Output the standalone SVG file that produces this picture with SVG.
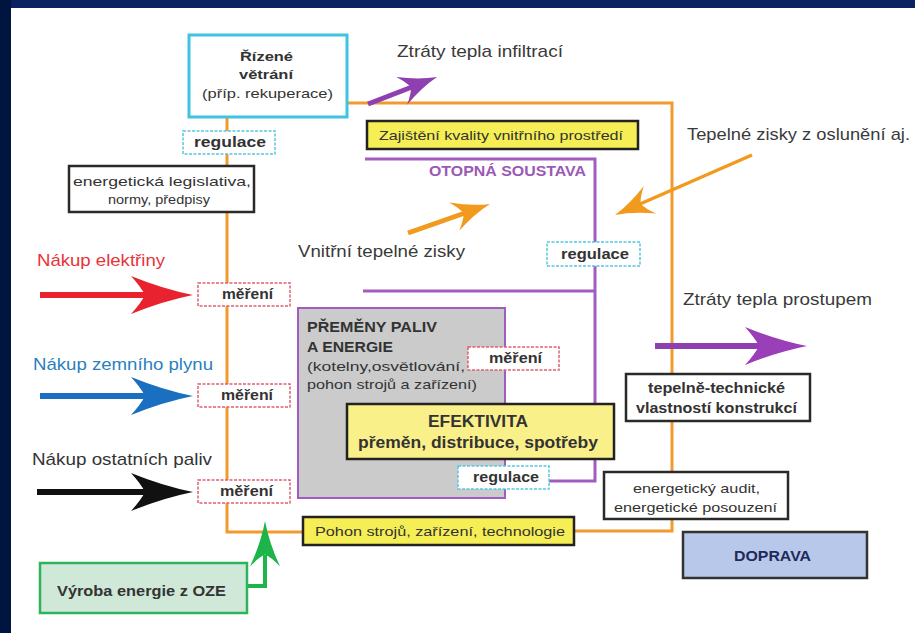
<svg xmlns="http://www.w3.org/2000/svg" xmlns:xlink="http://www.w3.org/1999/xlink" width="915" height="633" viewBox="0 0 915 633">
<defs>
<style>
text{font-family:"Liberation Sans",Arial,sans-serif;fill:#333}
.b{font-weight:bold}
.lbl{font-size:17px;fill:#3a3a3a}
.mer{fill:#fff;stroke:#e06070;stroke-width:1.5;stroke-dasharray:3 1.5}
.reg{fill:#fff;stroke:#55c6e0;stroke-width:1.5;stroke-dasharray:3 1.5}
.blk{fill:#fff;stroke:#2a2a2a;stroke-width:2.5}
.yel{fill:#f5ee55;stroke:#222;stroke-width:2.5}
.or{stroke:#f29a2e;stroke-width:3;fill:none}
.pu{stroke:#a05cc0;stroke-width:3;fill:none}
</style>
<path id="bigHead" d="M0,0 Q-30,-6 -62,-19 Q-52,-8 -48,0 Q-52,8 -62,19 Q-30,6 0,0 Z"/>
<path id="smHead" d="M0,0 Q-18,-4 -38,-15 Q-30,-6 -28,0 Q-30,6 -38,15 Q-18,4 0,0 Z"/>
</defs>
<rect x="0" y="0" width="915" height="633" fill="#fff"/>
<rect x="0" y="0" width="915" height="8" fill="#0a2260"/>
<rect x="0" y="0" width="11" height="633" fill="#001440"/>

<g id="connectors">
<polyline class="or" points="227,117 227,532 303,532"/>
<polyline class="or" points="347,103 672,103 672,531 574,531"/>
<polyline class="pu" points="365,159 595,159 595,481 548,481"/>
<line class="pu" x1="363" y1="291" x2="595" y2="291"/>
<line x1="368" y1="104" x2="412" y2="87" stroke="#8e3fb0" stroke-width="5"/>
<use xlink:href="#smHead" fill="#8e3fb0" transform="translate(437,77) rotate(-21.4)"/>
<line x1="408" y1="233" x2="465" y2="213" stroke="#f29a1e" stroke-width="5"/>
<use xlink:href="#smHead" fill="#f29a1e" transform="translate(490,204) rotate(-19.5)"/>
<line x1="752" y1="155" x2="640" y2="204" stroke="#f29a1e" stroke-width="3.5"/>
<use xlink:href="#smHead" fill="#f29a1e" transform="translate(615,215) rotate(156.4)"/>
<line x1="40" y1="295" x2="150" y2="295" stroke="#e8222e" stroke-width="6"/>
<use xlink:href="#bigHead" fill="#e8222e" transform="translate(193,295)"/>
<line x1="40" y1="396" x2="150" y2="396" stroke="#1a6fc0" stroke-width="6"/>
<use xlink:href="#bigHead" fill="#1a6fc0" transform="translate(193,396)"/>
<line x1="37" y1="492" x2="150" y2="492" stroke="#111" stroke-width="6"/>
<use xlink:href="#bigHead" fill="#111" transform="translate(193,492)"/>
<line x1="655" y1="346" x2="765" y2="346" stroke="#8e3fb0" stroke-width="6"/>
<use xlink:href="#bigHead" fill="#9a3fb8" transform="translate(807,346)"/>
<polyline points="247,586 265,586 265,555" fill="none" stroke="#1db44a" stroke-width="4"/>
<use xlink:href="#smHead" fill="#1db44a" transform="translate(265,521) rotate(-90) scale(1.2,1)"/>
</g>

<g id="rizene-vetrani">
<rect x="189" y="35" width="158" height="82" fill="#fff" stroke="#3ec3e0" stroke-width="3"/>
<text x="240" y="61" class="b" font-size="13.5" textLength="53" lengthAdjust="spacingAndGlyphs">Řízené</text>
<text x="239" y="79" class="b" font-size="13.5" textLength="54" lengthAdjust="spacingAndGlyphs">větrání</text>
<text x="202" y="98" font-size="13.5" textLength="131" lengthAdjust="spacingAndGlyphs">(příp. rekuperace)</text>
</g>
<g id="ztraty-infiltraci"><text x="397" y="57" class="lbl" textLength="166" lengthAdjust="spacingAndGlyphs">Ztráty tepla infiltrací</text></g>
<g id="regulace-1">
<rect x="183" y="131" width="92" height="23" class="reg"/>
<text x="194" y="147" class="b" font-size="14" textLength="72" lengthAdjust="spacingAndGlyphs">regulace</text>
</g>
<g id="legislativa">
<rect x="69" y="166" width="185" height="46" class="blk"/>
<text x="73" y="186" font-size="13.5" textLength="178" lengthAdjust="spacingAndGlyphs">energetická legislativa,</text>
<text x="108" y="204" font-size="13.5" textLength="102" lengthAdjust="spacingAndGlyphs">normy, předpisy</text>
</g>
<g id="zajisteni">
<rect x="367" y="121" width="271" height="28" class="yel"/>
<text x="379" y="140" font-size="13" textLength="244" lengthAdjust="spacingAndGlyphs">Zajištění kvality vnitřního prostředí</text>
</g>
<g id="otopna-soustava"><text x="429" y="176" class="b" font-size="14" style="fill:#9b59b6" textLength="157" lengthAdjust="spacingAndGlyphs">OTOPNÁ SOUSTAVA</text></g>
<g id="osluneni"><text x="687" y="140" class="lbl" textLength="223" lengthAdjust="spacingAndGlyphs">Tepelné zisky z oslunění aj.</text></g>
<g id="vnitrni-zisky"><text x="298" y="257" class="lbl" textLength="167" lengthAdjust="spacingAndGlyphs">Vnitřní tepelné zisky</text></g>
<g id="regulace-2">
<rect x="547" y="242" width="93" height="24" class="reg"/>
<text x="561" y="259" class="b" font-size="14" textLength="68" lengthAdjust="spacingAndGlyphs">regulace</text>
</g>
<g id="nakup-elektriny"><text x="37" y="266" font-size="17" style="fill:#e8333a" textLength="128" lengthAdjust="spacingAndGlyphs">Nákup elektřiny</text></g>
<g id="nakup-plynu"><text x="33" y="370" font-size="17" style="fill:#2a7fc0" textLength="180" lengthAdjust="spacingAndGlyphs">Nákup zemního plynu</text></g>
<g id="nakup-paliv"><text x="32" y="465" font-size="17" textLength="180" lengthAdjust="spacingAndGlyphs">Nákup ostatních paliv</text></g>
<g id="mereni-1">
<rect x="198" y="283" width="92" height="23" class="mer"/>
<text x="222" y="299" class="b" font-size="14" textLength="51" lengthAdjust="spacingAndGlyphs">měření</text>
</g>
<g id="mereni-2">
<rect x="198" y="384" width="92" height="23" class="mer"/>
<text x="221" y="400" class="b" font-size="14" textLength="52" lengthAdjust="spacingAndGlyphs">měření</text>
</g>
<g id="mereni-3">
<rect x="198" y="480" width="92" height="23" class="mer"/>
<text x="220" y="496" class="b" font-size="14" textLength="53" lengthAdjust="spacingAndGlyphs">měření</text>
</g>
<g id="premeny">
<rect x="298" y="308" width="207" height="190" fill="#cbcbcb" stroke="#a05cc0" stroke-width="2"/>
<text x="307" y="332" class="b" font-size="14" textLength="130" lengthAdjust="spacingAndGlyphs">PŘEMĚNY PALIV</text>
<text x="307" y="352" class="b" font-size="14" textLength="86" lengthAdjust="spacingAndGlyphs">A ENERGIE</text>
<text x="307" y="371" font-size="13.5" textLength="158" lengthAdjust="spacingAndGlyphs">(kotelny,osvětlování,</text>
<text x="307" y="389" font-size="13.5" textLength="170" lengthAdjust="spacingAndGlyphs">pohon strojů a zařízení)</text>
</g>
<g id="mereni-4">
<rect x="468" y="347" width="91" height="23" class="mer"/>
<text x="489" y="363" class="b" font-size="14" textLength="53" lengthAdjust="spacingAndGlyphs">měření</text>
</g>
<g id="efektivita">
<rect x="347" y="404" width="267" height="55" fill="#faf08a" stroke="#222" stroke-width="2.5"/>
<text x="428" y="427" class="b" font-size="16" textLength="100" lengthAdjust="spacingAndGlyphs">EFEKTIVITA</text>
<text x="358" y="448" class="b" font-size="16" textLength="240" lengthAdjust="spacingAndGlyphs">přeměn, distribuce, spotřeby</text>
</g>
<g id="regulace-3">
<rect x="458" y="466" width="91" height="23" class="reg"/>
<text x="473" y="482" class="b" font-size="14" textLength="66" lengthAdjust="spacingAndGlyphs">regulace</text>
</g>
<g id="ztraty-prostupem"><text x="683" y="305" class="lbl" textLength="189" lengthAdjust="spacingAndGlyphs">Ztráty tepla prostupem</text></g>
<g id="tepelne-technicke">
<rect x="626" y="374" width="184" height="47" class="blk"/>
<text x="648" y="393" class="b" font-size="14" textLength="137" lengthAdjust="spacingAndGlyphs">tepelně-technické</text>
<text x="636" y="413" class="b" font-size="14" textLength="161" lengthAdjust="spacingAndGlyphs">vlastností konstrukcí</text>
</g>
<g id="audit">
<rect x="604" y="472" width="184" height="47" class="blk"/>
<text x="633" y="493" font-size="13.5" textLength="127" lengthAdjust="spacingAndGlyphs">energetický audit,</text>
<text x="614" y="512" font-size="13.5" textLength="163" lengthAdjust="spacingAndGlyphs">energetické posouzení</text>
</g>
<g id="pohon">
<rect x="303" y="517" width="271" height="28" class="yel"/>
<text x="315" y="536" font-size="13" textLength="250" lengthAdjust="spacingAndGlyphs">Pohon strojů, zařízení, technologie</text>
</g>
<g id="doprava">
<rect x="683" y="532" width="184" height="46" fill="#b7c8ea" stroke="#333" stroke-width="2.5"/>
<text x="734" y="561" class="b" font-size="15" style="fill:#1f2a5a" textLength="77" lengthAdjust="spacingAndGlyphs">DOPRAVA</text>
</g>
<g id="oze">
<rect x="40" y="563" width="207" height="50" fill="#cfe8d8" stroke="#2db35a" stroke-width="2.5"/>
<text x="57" y="596" class="b" font-size="14" textLength="169" lengthAdjust="spacingAndGlyphs">Výroba energie z OZE</text>
</g>
</svg>
